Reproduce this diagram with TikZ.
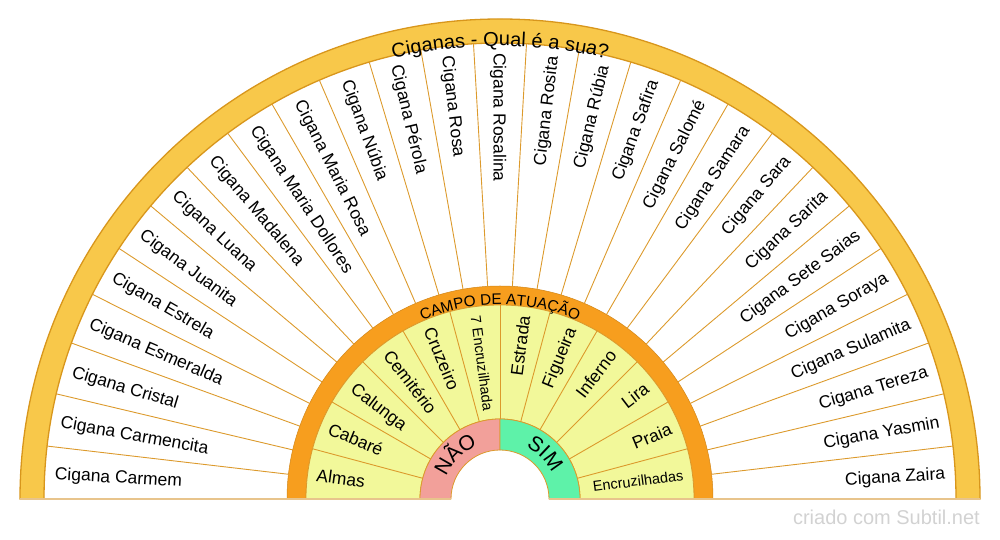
\documentclass[tikz,border=0pt]{standalone}
\usepackage{fontspec}
\setmainfont{Liberation Sans}
\usetikzlibrary{decorations.text}
\definecolor{goldring}{HTML}{F8C84A}
\definecolor{goldedge}{HTML}{D8961C}
\definecolor{divline}{HTML}{DC9A2C}
\definecolor{orangering}{HTML}{F79E1E}
\definecolor{yellowfill}{HTML}{F2F89A}
\definecolor{pinkfill}{HTML}{F2A09A}
\definecolor{greenfill}{HTML}{5EF2A9}
\definecolor{basecol}{HTML}{E8C48C}
\definecolor{wmark}{HTML}{D2D2D2}
\begin{document}
\begin{tikzpicture}[x=1pt,y=1pt,
  namelbl/.style={inner sep=0pt, font=\fontsize{17.5}{20}\selectfont, text height=12.6pt, text depth=0pt},
  divider/.style={draw=divline, line width=0.9pt},
  ringedge/.style={draw=divline, line width=0.8pt}]
\useasboundingbox (0,0) rectangle (1000,540);
\begin{scope}[shift={(500,41)}]
  % outer gold ring
  \filldraw[fill=goldring, draw=goldedge, line width=1.3pt]
    (180:480pt) arc[start angle=180, end angle=0, radius=480pt]
    -- (0:456pt) arc[start angle=0, end angle=180, radius=456pt] -- cycle;
  % orange ring
  \filldraw[fill=orangering, draw=orangering!85!black, line width=0.5pt]
    (180:213pt) arc[start angle=180, end angle=0, radius=213pt]
    -- (0:194pt) arc[start angle=0, end angle=180, radius=194pt] -- cycle;
  % yellow band
  \filldraw[fill=yellowfill, ringedge]
    (180:194pt) arc[start angle=180, end angle=0, radius=194pt]
    -- (0:80pt) arc[start angle=0, end angle=180, radius=80pt] -- cycle;
  % NAO / SIM ring
  \filldraw[fill=pinkfill, ringedge]
    (180:80pt) arc[start angle=180, end angle=90, radius=80pt]
    -- (90:49pt) arc[start angle=90, end angle=180, radius=49pt] -- cycle;
  \filldraw[fill=greenfill, ringedge]
    (90:80pt) arc[start angle=90, end angle=0, radius=80pt]
    -- (0:49pt) arc[start angle=0, end angle=90, radius=49pt] -- cycle;
  % outer dividers
  \foreach \k in {1,...,26} {
    \pgfmathsetmacro\da{180-\k*20/3}
    \draw[divider] (\da:213pt) -- (\da:456pt);
  }
  % inner dividers
  \foreach \k in {1,...,11} {
    \pgfmathsetmacro\da{180-\k*15}
    \draw[divider] (\da:80pt) -- (\da:194pt);
  }
  % bottom line
  \draw[draw=basecol, line width=1.5pt] (-480,0) -- (-49,0);
  \draw[draw=basecol, line width=1.5pt] (49,0) -- (480,0);
  % title along arc
  \path[decorate, decoration={text along path, text align=center,
      text={|\fontsize{20}{22}\selectfont|Ciganas - Qual é a sua?}}]
    (180:453pt) arc[start angle=180, end angle=0, radius=453pt];
  \path[decorate, decoration={text along path, text align=center,
      text={|\fontsize{15.3}{17}\selectfont|CAMPO DE ATUAÇÃO}}]
    (180:194.5pt) arc[start angle=180, end angle=0, radius=194.5pt];
  \path[decorate, decoration={text along path, text align=center,
      text={|\fontsize{21}{23}\selectfont|NÃO}}]
    (175:58pt) arc[start angle=175, end angle=95, radius=58pt];
  \path[decorate, decoration={text along path, text align=center,
      text={|\fontsize{21}{23}\selectfont|SIM}}]
    (85:58pt) arc[start angle=85, end angle=5, radius=58pt];
  % names
  \foreach \t [count=\i] in {Cigana Carmem, Cigana Carmencita, Cigana Cristal,
      Cigana Esmeralda, Cigana Estrela, Cigana Juanita, Cigana Luana,
      Cigana Madalena, Cigana Maria Dollores, Cigana Maria Rosa, Cigana Núbia,
      Cigana Pérola, Cigana Rosa, Cigana Rosalina, Cigana Rosita, Cigana Rúbia,
      Cigana Safira, Cigana Salomé, Cigana Samara, Cigana Sara, Cigana Sarita,
      Cigana Sete Saias, Cigana Soraya, Cigana Sulamita, Cigana Tereza,
      Cigana Yasmin, Cigana Zaira} {
    \pgfmathsetmacro\ang{180-(\i-0.5)*20/3}
    \pgfmathsetmacro\rl{\ang-180}
    \ifnum\i<15
      \node[namelbl, anchor=west, rotate=\rl] (n\i) at (\ang:446pt) {\t};
    \else
      \node[namelbl, anchor=east, rotate=\ang] (n\i) at (\ang:446pt) {\t};
    \fi
  }
  % fields
  \foreach \t/\s [count=\j] in {Almas/17.5, Cabaré/17.5, Calunga/17.5,
      Cemitério/17.5, Cruzeiro/17.5, 7 Encruzilhada/14.5, Estrada/17.5,
      Figueira/17.5, Inferno/17.5, Lira/17.5, Praia/17.5, Encruzilhadas/14.5} {
    \pgfmathsetmacro\ang{180-(\j-0.5)*15}
    \pgfmathsetmacro\rl{\ang-180}
    \pgfmathsetmacro\th{0.72*\s}
    \ifnum\j<7
      \node[inner sep=0pt, font=\fontsize{\s}{\s}\selectfont, text height=\th pt, text depth=0pt,
        anchor=west, rotate=\rl] (f\j) at (\ang:185pt) {\t};
    \else
      \node[inner sep=0pt, font=\fontsize{\s}{\s}\selectfont, text height=\th pt, text depth=0pt,
        anchor=east, rotate=\ang] (f\j) at (\ang:185pt) {\t};
    \fi
  }
\end{scope}
\node[inner sep=0pt, anchor=base east, text=wmark, font=\fontsize{20}{22}\selectfont] (wm) at (980,15) {criado com Subtil.net};
\end{tikzpicture}
\end{document}
